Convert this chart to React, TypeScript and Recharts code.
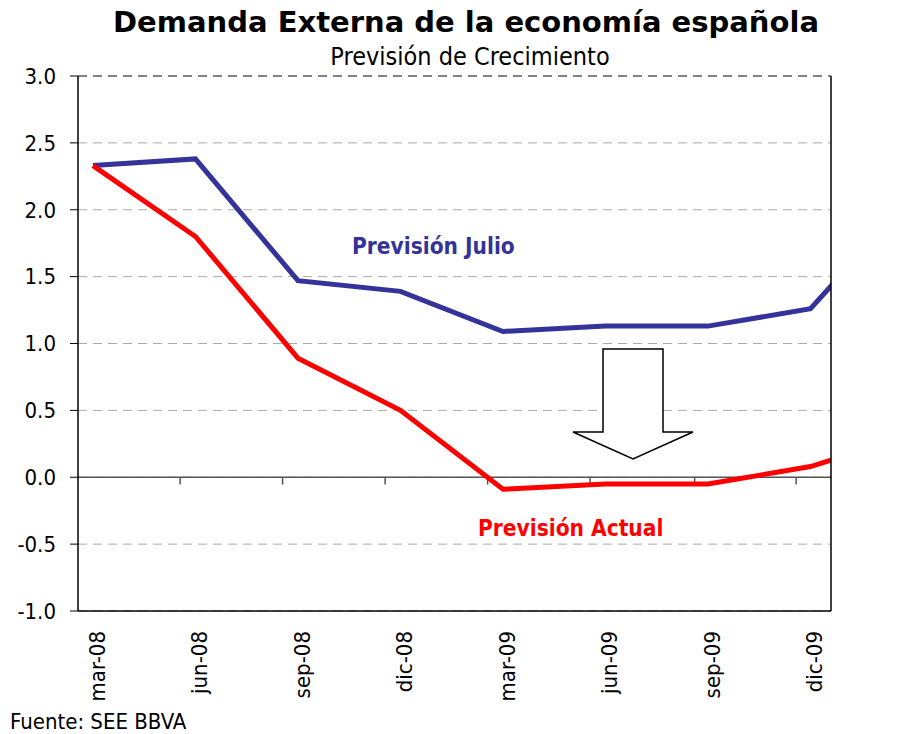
import { LineChart, Line, XAxis, YAxis, CartesianGrid, ReferenceLine } from "recharts";

// quarterly forecast points (last one runs off the right edge of the plot)
const CATEGORIES = ['mar-08', 'jun-08', 'sep-08', 'dic-08', 'mar-09', 'jun-09', 'sep-09', 'dic-09', 'mar-10'];
const PREVISION_JULIO = [2.33, 2.38, 1.47, 1.39, 1.09, 1.13, 1.13, 1.26, 2.11];
const PREVISION_ACTUAL = [2.33, 1.80, 0.89, 0.50, -0.09, -0.05, -0.05, 0.08, 0.32];
const Y_TICKS = [-1, -0.5, 0, 0.5, 1, 1.5, 2, 2.5, 3];
const X_TICKS = [0, 1, 2, 3, 4, 5, 6, 7];
const ZERO_LINE_TICKS = [0.85, 1.85, 2.85, 3.85, 4.85, 5.87, 6.86];

const data = CATEGORIES.map((c, i) => ({
  i,
  name: c,
  julio: PREVISION_JULIO[i],
  actual: PREVISION_ACTUAL[i],
}));

const FONT = '"DejaVu Sans Condensed", "DejaVu Sans", sans-serif';
const BLUE = '#333399';
const RED = '#ff0000';

const XTick = (props: any) => {
  const { x, y, payload } = props;
  return (
    <text
      x={x + 12}
      y={y}
      transform={`rotate(-90, ${x + 12}, ${y})`}
      textAnchor="end"
      fontFamily={FONT}
      fontSize={22}
      fill="#000"
    >
      {CATEGORIES[payload.value]}
    </text>
  );
};

export default function App() {
  return (
    <div style={{ position: 'absolute', left: 0, top: 0, width: 906, height: 734, background: '#fff' }}>
      <LineChart
        width={906}
        height={734}
        data={data}
        margin={{ top: 76, right: 15, bottom: 23, left: 18 }}
      >
        <CartesianGrid vertical={false} stroke="#aaa" strokeDasharray="9 6" yAxisId="left" />
        <XAxis
          dataKey="i"
          type="number"
          domain={[-0.146, 7.2]}
          allowDataOverflow
          ticks={X_TICKS}
          interval={0}
          height={100}
          tickLine={false}
          axisLine={{ stroke: '#000', strokeWidth: 1.5 }}
          tick={<XTick />}
          tickMargin={14}
        />
        <YAxis
          yAxisId="left"
          domain={[-1, 3]}
          ticks={Y_TICKS}
          width={60}
          tickSize={8}
          tickMargin={14}
          tickFormatter={(v: number) => v.toFixed(1)}
          axisLine={{ stroke: '#000', strokeWidth: 1.5 }}
          tickLine={{ stroke: '#000' }}
          tick={{ fontFamily: FONT, fontSize: 22, fill: '#000' }}
        />
        <YAxis
          yAxisId="right"
          orientation="right"
          domain={[-1, 3]}
          ticks={Y_TICKS}
          width={60}
          tickSize={7}
          tickMargin={10}
          tickFormatter={(v: number) => v.toFixed(1)}
          axisLine={{ stroke: '#000', strokeWidth: 1.5 }}
          tickLine={{ stroke: '#000' }}
          tick={{ fontFamily: FONT, fontSize: 22, fill: '#000' }}
        />
        <ReferenceLine yAxisId="left" y={3} stroke="#666" strokeWidth={1.5} strokeDasharray="9 6" />
        <ReferenceLine yAxisId="left" y={0} stroke="#555" strokeWidth={1.5} />
        {ZERO_LINE_TICKS.map((t) => (
          <ReferenceLine
            key={t}
            yAxisId="left"
            segment={[{ x: t, y: 0 }, { x: t, y: -0.055 }]}
            stroke="#555"
            strokeWidth={1.5}
          />
        ))}
        <Line
          yAxisId="left"
          dataKey="julio"
          stroke={BLUE}
          strokeWidth={5}
          dot={false}
          strokeLinejoin="miter"
          isAnimationActive={false}
        />
        <Line
          yAxisId="left"
          dataKey="actual"
          stroke={RED}
          strokeWidth={5}
          dot={false}
          strokeLinejoin="miter"
          isAnimationActive={false}
        />
      </LineChart>
      <svg
        width={906}
        height={734}
        style={{ position: 'absolute', left: 0, top: 0, pointerEvents: 'none' }}
      >
        <text x={466} y={32} textAnchor="middle" fontFamily='"DejaVu Sans", sans-serif' fontWeight="bold" fontSize={29} fill="#000">
          Demanda Externa de la economía española
        </text>
        <text x={470} y={65} textAnchor="middle" fontFamily={FONT} fontSize={25} fill="#000">
          Previsión de Crecimiento
        </text>
        <text x={352} y={254} fontFamily={FONT} fontWeight="bold" fontSize={22.5} fill={BLUE}>
          Previsión Julio
        </text>
        <text x={478} y={536} fontFamily={FONT} fontWeight="bold" fontSize={22.5} fill={RED}>
          Previsión  Actual
        </text>
        <polygon
          points="603,349 663,349 663,432 693,432 633,459 573,432 603,432"
          fill="#fff"
          stroke="#000"
          strokeWidth={1.5}
        />
        <text x={10} y={729} fontFamily='"Liberation Sans Narrow", "DejaVu Sans Condensed", sans-serif' fontSize={22} fill="#000">
          Fuente: SEE BBVA
        </text>
      </svg>
    </div>
  );
}
